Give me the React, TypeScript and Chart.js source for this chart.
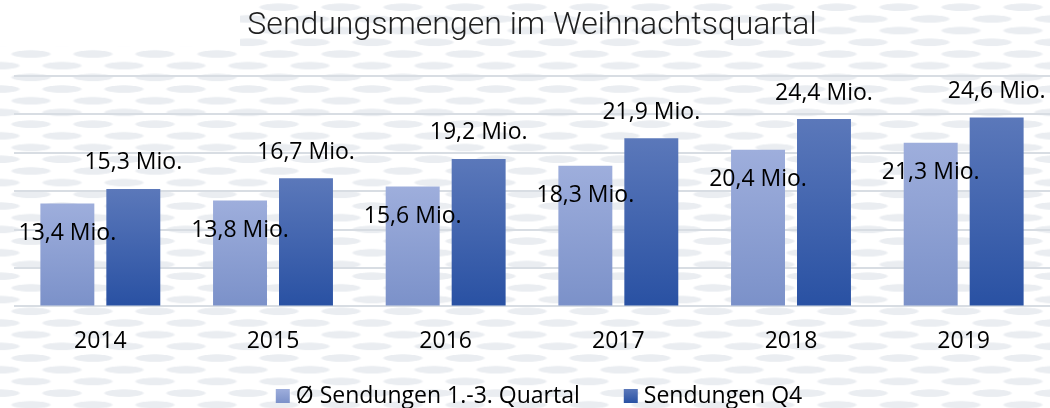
import React, { useEffect, useRef } from "react";
import { Chart, registerables } from "chart.js";

Chart.register(...registerables);

const years = ["2014", "2015", "2016", "2017", "2018", "2019"];
const avgQ1to3 = [13.4, 13.8, 15.6, 18.3, 20.4, 21.3];
const q4 = [15.3, 16.7, 19.2, 21.9, 24.4, 24.6];
const seriesNames = ["Ø Sendungen 1.-3. Quartal", "Sendungen Q4"];
const titleText = "Sendungsmengen im Weihnachtsquartal";
const yMin = 0;
const yMax = 30;
const yStep = 5;

const gradStops = [
  ["#9eaedc", "#7b91c9"],
  ["#5b78ba", "#2951a3"],
];

const fmt = (v: number) => v.toFixed(1).replace(".", ",") + " Mio.";

const makeBg = (di: number) => (context: any) => {
  const chart = context.chart;
  const area = chart.chartArea;
  if (!area) return gradStops[di][1];
  if (context.type !== "data") return gradStops[di][1];
  const v = context.raw as number;
  const yScale = chart.scales.y;
  const top = yScale.getPixelForValue(v);
  const bottom = yScale.getPixelForValue(0);
  const g = chart.ctx.createLinearGradient(0, top, 0, bottom);
  g.addColorStop(0, gradStops[di][0]);
  g.addColorStop(1, gradStops[di][1]);
  return g;
};

const overlayPlugin = {
  id: "overlay",
  afterDatasetsDraw(chart: any) {
    const { ctx, chartArea } = chart;
    ctx.save();
    // data labels
    ctx.font = '23px "Open Sans"';
    ctx.fillStyle = "#000";
    ctx.textAlign = "center";
    ctx.textBaseline = "middle";
    chart.data.datasets.forEach((ds: any, di: number) => {
      const meta = chart.getDatasetMeta(di);
      meta.data.forEach((bar: any, i: number) => {
        const v = ds.data[i];
        const y = di === 0 ? bar.y + 30 : bar.y - 26;
        ctx.fillText(fmt(v), bar.x, y);
      });
    });
    // title
    ctx.font = '300 32px Roboto';
    ctx.fillStyle = "#1f1f1f";
    ctx.fillText(titleText, (chartArea.left + chartArea.right) / 2, 26);
    // legend
    ctx.font = '23px "Open Sans"';
    const box = 14;
    const gap = 6;
    const itemGap = 44;
    const widths = seriesNames.map((s) => ctx.measureText(s).width);
    const total = widths.reduce((a, w) => a + box + gap + w, 0) + itemGap * (seriesNames.length - 1);
    const center = (chartArea.left + chartArea.right) / 2 + 7;
    let x = center - total / 2;
    const ly = 396;
    seriesNames.forEach((s, i) => {
      const g = ctx.createLinearGradient(0, ly - box / 2, 0, ly + box / 2);
      g.addColorStop(0, gradStops[i][0]);
      g.addColorStop(1, gradStops[i][1]);
      ctx.fillStyle = g;
      ctx.fillRect(x, ly - box / 2, box, box);
      ctx.fillStyle = "#000";
      ctx.textAlign = "left";
      ctx.fillText(s, x + box + gap, ly);
      x += box + gap + widths[i] + itemGap;
    });
    ctx.restore();
  },
};

export default function App() {
  const ref = useRef<HTMLCanvasElement | null>(null);
  useEffect(() => {
    document.body.style.margin = "0";
    if (!ref.current) return;
    const chart = new Chart(ref.current, {
      type: "bar",
      data: {
        labels: years,
        datasets: [
          {
            label: seriesNames[0],
            data: avgQ1to3,
            backgroundColor: makeBg(0),
            borderWidth: 0,
            categoryPercentage: 0.764,
            barPercentage: 0.818,
          },
          {
            label: seriesNames[1],
            data: q4,
            backgroundColor: makeBg(1),
            borderWidth: 0,
            categoryPercentage: 0.764,
            barPercentage: 0.818,
          },
        ],
      },
      options: {
        animation: false,
        responsive: true,
        maintainAspectRatio: false,
        layout: { padding: { top: 76, left: 14, right: 0, bottom: 32 } },
        plugins: {
          legend: { display: false },
          title: { display: false },
          tooltip: { enabled: false },
        },
        scales: {
          x: {
            grid: { display: false, drawTicks: false },
            border: { display: false },
            ticks: {
              color: "#000",
              font: { family: "Open Sans", size: 23 },
              padding: 21,
            },
          },
          y: {
            min: yMin,
            max: yMax,
            ticks: { display: false, stepSize: yStep },
            grid: { color: "#d8dde3", lineWidth: 2, drawTicks: false },
            border: { display: false },
          },
        },
      },
      plugins: [overlayPlugin],
    });
    return () => chart.destroy();
  }, []);

  const dash = "#eaedf1";
  return (
    <div
      style={{
        position: "absolute",
        left: 0,
        top: 0,
        width: 1050,
        height: 408,
        backgroundColor: "#fff",
        backgroundImage: `linear-gradient(#fff, #fff), radial-gradient(21px 4px at 31px 6px, ${dash} 85%, rgba(234,237,241,0) 100%), radial-gradient(21px 4px at 31px 6px, ${dash} 85%, rgba(234,237,241,0) 100%)`,
        backgroundSize: "240px 46px, 62px 23.4px, 62px 23.4px",
        backgroundPosition: "0 0, 0 48px, 31px 59.7px",
        backgroundRepeat: "no-repeat, repeat, repeat",
      }}
    >
      <canvas ref={ref} />
    </div>
  );
}
